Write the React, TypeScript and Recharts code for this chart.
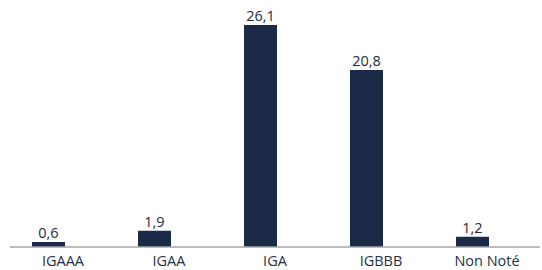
import React from 'react';
import { BarChart, Bar, XAxis, YAxis, LabelList } from 'recharts';

const categories = ['IGAAA', 'IGAA', 'IGA', 'IGBBB', 'Non Noté'];
const values = [0.6, 1.9, 26.1, 20.8, 1.2];
// empty second series of the source chart (keeps the bars left of the category centre)
const emptySeries = [null, null, null, null, null];

const data = categories.map((name, i) => ({ name, value: values[i], empty: emptySeries[i] }));

const formatLabel = (v: any) => String(v).replace('.', ',');

const App: React.FC = () => {
  return (
    <div style={{ position: 'absolute', left: 0, top: 0, fontFamily: '"Open Sans", sans-serif' }}>
      <BarChart width={542} height={270} data={data} margin={{ top: 25, right: 2, left: 10, bottom: 0 }} barGap={-4}>
        <YAxis hide domain={[0, 26.1]} />
        <XAxis
          dataKey="name"
          height={23}
          tickLine={false}
          axisLine={{ stroke: '#a6a6a6', strokeWidth: 1.5 }}
          tick={{ fontSize: 14.5, fill: '#262f45' }}
          tickMargin={3}
          interval={0}
        />
        <Bar dataKey="value" fill="#1b2a47" barSize={33} isAnimationActive={false}>
          <LabelList dataKey="value" position="top" offset={4} formatter={formatLabel} style={{ fontSize: 14.5, fill: '#1f2a44' }} />
        </Bar>
        <Bar dataKey="empty" fill="none" barSize={33} isAnimationActive={false} />
      </BarChart>
    </div>
  );
};

export default App;
